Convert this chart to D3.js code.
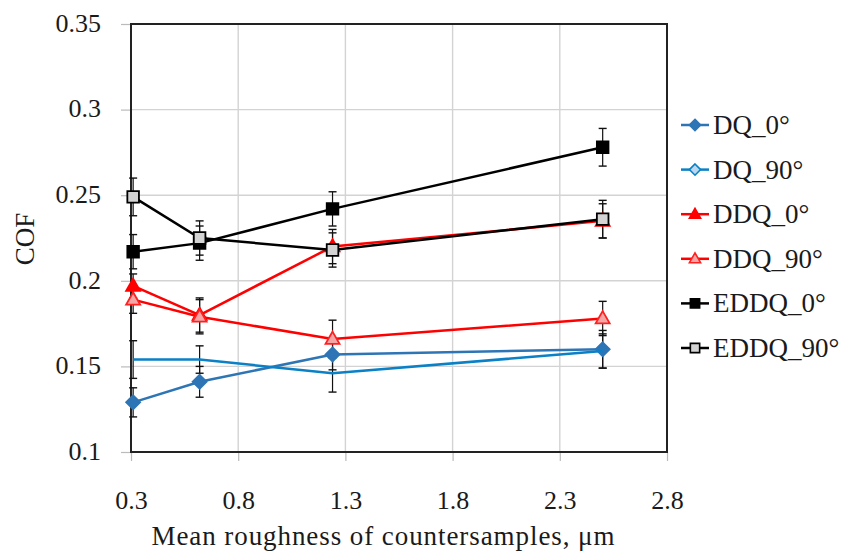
<!DOCTYPE html>
<html><head><meta charset="utf-8">
<script src="https://cdn.jsdelivr.net/npm/d3@7"></script>
<style>body{margin:0;background:#fff}</style>
</head><body><svg id="c" width="843" height="553"></svg>
<script>
const xValues = [0.31, 0.62, 1.24, 2.5];
const seriesNames = ["DQ_0°", "DQ_90°", "DDQ_0°", "DDQ_90°", "EDDQ_0°", "EDDQ_90°"];
const dq0 = [0.129, 0.141, 0.157, 0.160];
const dq90 = [0.154, 0.154, 0.146, 0.159];
const ddq0 = [0.197, 0.180, 0.220, 0.235];
const ddq90 = [0.189, 0.179, 0.166, 0.178];
const eddq0 = [0.217, 0.222, 0.242, 0.278];
const eddq90 = [0.249, 0.225, 0.218, 0.236];
const dq0Err = [0.0085, 0.009, 0.009, 0.011];
const dq90Err = [0.011, 0.008, 0.011, 0.010];
const ddq0Err = [0.007, 0.010, 0.010, 0.010];
const ddq90Err = [0.008, 0.010, 0.011, 0.010];
const eddq0Err = [0.010, 0.010, 0.010, 0.011];
const eddq90Err = [0.011, 0.010, 0.010, 0.011];
const xTicks = [0.3, 0.8, 1.3, 1.8, 2.3, 2.8];
const yTicks = [0.1, 0.15, 0.2, 0.25, 0.3, 0.35];

const FONT = "'Liberation Serif','Times New Roman',serif";
const TXT = "#1a1a1a";
const styles = [
  {line:"#2E75B6", stroke:"#2E75B6", fill:"#2E75B6", shape:"diamond", showMarker:true},
  {line:"#0A80C6", stroke:"#0A80C6", fill:"#BDD7EE", shape:"diamond", showMarker:false},
  {line:"#FF0000", stroke:"#FF0000", fill:"#FF0000", shape:"triangle", showMarker:true},
  {line:"#FF0000", stroke:"#FF2020", fill:"#F4A6A6", shape:"triangle", showMarker:true},
  {line:"#000000", stroke:"#000000", fill:"#000000", shape:"square", showMarker:true},
  {line:"#000000", stroke:"#000000", fill:"#D4D4D4", shape:"square", showMarker:true}
];
const values = [dq0, dq90, ddq0, ddq90, eddq0, eddq90];
const errs = [dq0Err, dq90Err, ddq0Err, ddq90Err, eddq0Err, eddq90Err];

const svg = d3.select("#c");
const L = 131, R = 667, T = 24, B = 452;
const x = d3.scaleLinear().domain([0.3, 2.8]).range([L, R]);
const y = d3.scaleLinear().domain([0.1, 0.35]).range([B, T]);

// grid
svg.append("g").selectAll("line").data(yTicks).join("line")
  .attr("x1", L).attr("x2", R).attr("y1", d => y(d)).attr("y2", d => y(d))
  .attr("stroke", "#D3D3D3").attr("stroke-width", 1.4);
svg.append("g").selectAll("line").data(xTicks).join("line")
  .attr("y1", T).attr("y2", B).attr("x1", d => x(d)).attr("x2", d => x(d))
  .attr("stroke", "#D3D3D3").attr("stroke-width", 1.4);

// axes
const yAxis = d3.axisLeft(y).tickValues(yTicks).tickSize(10).tickPadding(20)
  .tickFormat(d => String(+d.toFixed(2)));
const gy = svg.append("g").attr("transform", `translate(${L},0)`).call(yAxis)
  .attr("font-family", FONT);
gy.select(".domain").remove();
gy.selectAll(".tick line").attr("stroke", "#BBBBBB").attr("stroke-width", 1.2);
gy.selectAll(".tick text").attr("font-size", 26).attr("fill", TXT).attr("dy", "0.28em");

const xAxis = d3.axisBottom(x).tickValues(xTicks).tickSize(9).tickPadding(30)
  .tickFormat(d => String(+d.toFixed(1)));
const gx = svg.append("g").attr("transform", `translate(0,${B})`).call(xAxis)
  .attr("font-family", FONT);
gx.select(".domain").remove();
gx.selectAll(".tick line").attr("stroke", "#BBBBBB").attr("stroke-width", 1.2);
gx.selectAll(".tick text").attr("font-size", 26).attr("fill", TXT);

svg.append("rect").attr("x", L).attr("y", T).attr("width", R - L).attr("height", B - T)
  .attr("fill", "none").attr("stroke", "#222").attr("stroke-width", 2);

svg.append("text").attr("x", 383).attr("y", 545).attr("text-anchor", "middle")
  .attr("font-family", FONT).attr("fill", TXT)
  .attr("font-size", 27).attr("textLength", 463).attr("lengthAdjust", "spacing")
  .text("Mean roughness of countersamples, μm");
svg.append("text").attr("transform", "translate(34,239) rotate(-90)").attr("text-anchor", "middle")
  .attr("font-family", FONT).attr("fill", TXT)
  .attr("font-size", 27).text("COF");

function markerPath(shape, s) {
  if (shape === "diamond") return `M0,${-s}L${s},0L0,${s}L${-s},0Z`;
  if (shape === "triangle") {
    const h = s * 1.75;
    return `M0,${-h * 0.6}L${s},${h * 0.4}L${-s},${h * 0.4}Z`;
  }
  return `M${-s},${-s}H${s}V${s}H${-s}Z`;
}
const markerSize = {diamond: 7, triangle: 7, square: 5.8};

const line = d3.line().x(d => x(d[0])).y(d => y(d[1]));
const plot = svg.append("g");
// error bars
values.forEach((vals, i) => {
  const g = plot.append("g");
  vals.forEach((v, j) => {
    const cx = x(xValues[j]), e = errs[i][j];
    g.append("line").attr("x1", cx).attr("x2", cx).attr("y1", y(v - e)).attr("y2", y(v + e))
      .attr("stroke", "#111").attr("stroke-width", 1.2);
    [v - e, v + e].forEach(t => g.append("line").attr("x1", cx - 4).attr("x2", cx + 4)
      .attr("y1", y(t)).attr("y2", y(t)).attr("stroke", "#111").attr("stroke-width", 1.4));
  });
});
values.forEach((vals, i) => {
  const s = styles[i];
  const pts = vals.map((v, j) => [xValues[j], v]);
  plot.append("path").attr("d", line(pts)).attr("fill", "none")
    .attr("stroke", s.line).attr("stroke-width", 2.5);
  if (s.showMarker) {
    plot.append("g").selectAll("path").data(pts).join("path")
      .attr("d", markerPath(s.shape, markerSize[s.shape]))
      .attr("transform", d => `translate(${x(d[0])},${y(d[1])})`)
      .attr("fill", s.fill).attr("stroke", s.stroke).attr("stroke-width", 1.8);
  }
});

// legend
const legTop = 125, legStep = 44.6;
const leg = svg.append("g");
seriesNames.forEach((name, i) => {
  const s = styles[i];
  const g = leg.append("g").attr("transform", `translate(695,${legTop + i * legStep})`);
  g.append("line").attr("x1", -14).attr("x2", 14).attr("stroke", s.line).attr("stroke-width", 2.5);
  g.append("path").attr("d", markerPath(s.shape, markerSize[s.shape] * 0.8))
    .attr("fill", s.fill).attr("stroke", s.stroke).attr("stroke-width", 1.6);
  g.append("text").attr("x", 18).attr("y", 0).attr("dy", "0.33em")
    .attr("font-family", FONT).attr("fill", TXT).attr("font-size", 27).text(name);
});
</script></body></html>
